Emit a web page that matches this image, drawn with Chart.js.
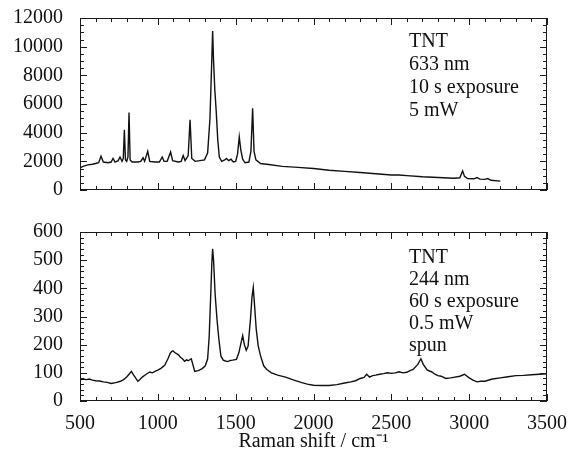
<!DOCTYPE html>
<html>
<head>
<meta charset="utf-8">
<script src="https://cdn.jsdelivr.net/npm/chart.js@4.4.1/dist/chart.umd.min.js"></script>
<style>
  body { margin: 0; background: #fff; width: 574px; height: 460px; position: relative; overflow: hidden; }
  #topBox { position: absolute; left: 0; top: 2px; }
  #bottomBox { position: absolute; left: 0; top: 217px; }
</style>
</head>
<body>
<div id="topBox"><canvas id="spectro633" width="574" height="205"></canvas></div>
<div id="bottomBox"><canvas id="spectro244" width="574" height="243"></canvas></div>
<script>
// TNT, 633 nm excitation
const shift633 = [500, 520, 550, 580, 600, 620, 635, 650, 680, 700, 712, 725, 745, 757, 770, 778, 785, 792, 800, 808, 815, 822, 835, 870, 890, 905, 915, 935, 948, 980, 1010, 1028, 1040, 1060, 1082, 1095, 1130, 1150, 1163, 1175, 1195, 1207, 1218, 1240, 1270, 1300, 1320, 1335, 1345, 1352, 1358, 1366, 1375, 1385, 1395, 1410, 1430, 1440, 1455, 1470, 1485, 1500, 1512, 1523, 1533, 1545, 1560, 1585, 1598, 1609, 1618, 1630, 1660, 1700, 1800, 1900, 2000, 2100, 2200, 2300, 2400, 2500, 2550, 2600, 2700, 2800, 2900, 2940, 2958, 2970, 2990, 3030, 3050, 3070, 3100, 3120, 3140, 3200];
const int633 = [1550, 1650, 1750, 1800, 1850, 1900, 2350, 1950, 1900, 1950, 2200, 1950, 2050, 2300, 2000, 2200, 4200, 2100, 2000, 2300, 5400, 2100, 1950, 1950, 2000, 2250, 2000, 2700, 2000, 1950, 1950, 2300, 2000, 2000, 2650, 2050, 1950, 2000, 2400, 2050, 2400, 4900, 2200, 2000, 2050, 2100, 2600, 5000, 8500, 11100, 9000, 7000, 5500, 3500, 2300, 2000, 2100, 2200, 2050, 2150, 1950, 2000, 2500, 3700, 2800, 2150, 1900, 1950, 2700, 5700, 2700, 2100, 1850, 1800, 1650, 1580, 1500, 1380, 1300, 1220, 1130, 1050, 1050, 1000, 920, 870, 820, 850, 1330, 950, 800, 780, 870, 760, 740, 800, 680, 620];

// TNT, 244 nm excitation
const shift244 = [500, 520, 540, 560, 580, 600, 625, 650, 675, 700, 730, 760, 780, 800, 815, 830, 845, 872, 885, 900, 925, 948, 965, 985, 1000, 1020, 1044, 1065, 1080, 1090, 1097, 1108, 1120, 1133, 1145, 1158, 1172, 1185, 1195, 1215, 1237, 1260, 1285, 1305, 1320, 1330, 1340, 1347, 1352, 1358, 1368, 1380, 1392, 1405, 1420, 1435, 1450, 1465, 1480, 1505, 1520, 1532, 1545, 1556, 1568, 1580, 1595, 1605, 1613, 1620, 1632, 1645, 1660, 1680, 1700, 1730, 1770, 1820, 1870, 1920, 1960, 2000, 2050, 2100, 2150, 2200, 2240, 2270, 2300, 2325, 2341, 2360, 2380, 2400, 2425, 2450, 2475, 2500, 2525, 2550, 2575, 2600, 2620, 2640, 2670, 2690, 2705, 2730, 2760, 2780, 2800, 2820, 2850, 2880, 2900, 2940, 2970, 3000, 3025, 3050, 3075, 3100, 3150, 3200, 3250, 3300, 3350, 3400, 3450, 3500];
const int244 = [75, 78, 76, 78, 74, 72, 71, 68, 66, 62, 65, 70, 76, 85, 95, 105, 92, 70, 76, 85, 95, 103, 100, 106, 110, 116, 127, 150, 170, 176, 178, 172, 168, 164, 155, 150, 141, 146, 143, 150, 105, 108, 115, 125, 150, 230, 380, 490, 540, 500, 380, 290, 220, 160, 145, 142, 140, 144, 145, 148, 170, 200, 232, 200, 180, 195, 290, 370, 403, 350, 255, 195, 160, 125, 112, 100, 92, 85, 75, 66, 60, 56, 55, 55, 58, 64, 68, 72, 80, 84, 95, 85, 90, 92, 95, 97, 100, 98, 100, 104, 100, 102, 108, 112, 130, 150, 130, 110, 103, 95, 90, 88, 80, 82, 84, 88, 95, 82, 74, 68, 70, 70, 78, 82, 86, 90, 91, 93, 95, 97];

const notes633 = ['TNT', '633 nm', '10 s exposure', '5 mW'];
const notes244 = ['TNT', '244 nm', '60 s exposure', '0.5 mW', 'spun'];

const xTicks = [500, 1000, 1500, 2000, 2500, 3000, 3500];
const yTicks633 = [0, 2000, 4000, 6000, 8000, 10000, 12000];
const yTicks244 = [0, 100, 200, 300, 400, 500, 600];

const serif = 'Liberation Serif, Times New Roman, serif';

// box round the plot and small ticks pointing inward on all four sides
const tickMarks = {
  id: 'tickMarks',
  afterDatasetsDraw(chart, args, opts) {
    const ctx = chart.ctx;
    const a = chart.chartArea;
    const x = chart.scales.x, y = chart.scales.y;
    ctx.save();
    ctx.strokeStyle = '#1a1a1a';
    ctx.lineWidth = 1;
    ctx.strokeRect(a.left + 0.5, a.top + 0.5, a.width - 1, a.height - 1);
    ctx.beginPath();
    for (let v = x.min; v <= x.max; v += 100) {
      const px = Math.round(x.getPixelForValue(v)) + 0.5;
      const len = v % 500 === 0 ? 7 : 4;
      ctx.moveTo(px, a.bottom); ctx.lineTo(px, a.bottom - len);
      ctx.moveTo(px, a.top); ctx.lineTo(px, a.top + len);
    }
    for (let v = y.min; v <= y.max; v += opts.minor) {
      const py = Math.round(y.getPixelForValue(v)) + 0.5;
      const len = v % opts.major === 0 ? 7 : 4;
      ctx.moveTo(a.left, py); ctx.lineTo(a.left + len, py);
      ctx.moveTo(a.right, py); ctx.lineTo(a.right - len, py);
    }
    ctx.stroke();
    ctx.restore();
  }
};

// the text block in the upper right of each panel
const noteText = {
  id: 'noteText',
  afterDraw(chart, args, opts) {
    const ctx = chart.ctx;
    ctx.save();
    ctx.fillStyle = '#111';
    ctx.font = '20px ' + serif;
    ctx.textAlign = 'left';
    ctx.textBaseline = 'middle';
    opts.lines.forEach((t, i) => ctx.fillText(t, opts.x, opts.y + i * opts.step));
    ctx.restore();
  }
};

function makeChart(id, xs, ys, yTicks, opt) {
  const points = xs.map((v, i) => ({ x: v, y: ys[i] }));
  return new Chart(document.getElementById(id), {
    type: 'line',
    data: {
      datasets: [{
        data: points,
        borderColor: '#111',
        borderWidth: 1.4,
        pointRadius: 0,
        tension: 0,
        fill: false
      }]
    },
    options: {
      responsive: false,
      animation: false,
      devicePixelRatio: 1,
      layout: { padding: opt.padding },
      plugins: {
        legend: { display: false },
        tooltip: { enabled: false },
        tickMarks: { minor: opt.minor, major: yTicks[1] },
        noteText: opt.notes
      },
      scales: {
        x: {
          type: 'linear',
          min: 500,
          max: 3500,
          display: opt.showX,
          grid: { display: false, drawTicks: false },
          border: { display: false },
          afterBuildTicks: s => { s.ticks = xTicks.map(v => ({ value: v })); },
          afterFit: s => {
            if (opt.showX) s.height = 59;
            s.paddingLeft = 0; s.paddingRight = 0;
          },
          ticks: {
            color: '#111', font: { family: serif, size: 20 }, padding: 11,
            maxRotation: 0, autoSkip: false, callback: v => String(v)
          },
          title: {
            display: opt.showX,
            text: 'Raman shift / cm\u207B\u00B9',
            color: '#111',
            font: { family: serif, size: 20 },
            padding: { top: 4, bottom: 6 }
          }
        },
        y: {
          min: yTicks[0],
          max: yTicks[yTicks.length - 1],
          grid: { display: false, drawTicks: false },
          border: { display: false },
          afterBuildTicks: s => { s.ticks = yTicks.map(v => ({ value: v })); },
          afterFit: s => { s.width = 80; s.paddingTop = 0; s.paddingBottom = 0; },
          ticks: {
            color: '#111', font: { family: serif, size: 20 }, padding: 17,
            autoSkip: false, callback: v => String(v)
          }
        }
      }
    },
    plugins: [tickMarks, noteText]
  });
}

makeChart('spectro633', shift633, int633, yTicks633, {
  padding: { left: 0, right: 27, top: 16, bottom: 17 },
  minor: 500,
  showX: false,
  notes: { lines: notes633, x: 409, y: 40, step: 23 }
});

makeChart('spectro244', shift244, int244, yTicks244, {
  padding: { left: 0, right: 27, top: 15, bottom: 0 },
  minor: 20,
  showX: true,
  notes: { lines: notes244, x: 409, y: 41, step: 22 }
});
</script>
</body>
</html>
